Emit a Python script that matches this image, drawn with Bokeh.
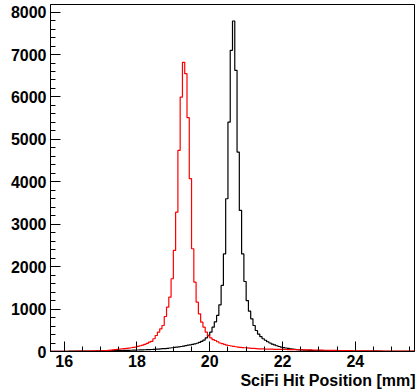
import numpy as np
from bokeh.plotting import figure
from bokeh.models import Range1d, FixedTicker, Title
from bokeh.embed import file_html
from bokeh.resources import INLINE

# Histogram binning (mm)
x_low = 15.625
bin_width = 0.0625

# Black histogram counts (160 bins)
black_counts = [
    4, 4, 5, 5, 5, 6, 6, 6, 7, 7,
    8, 8, 9, 9, 10, 10, 11, 11, 12, 12,
    13, 14, 14, 15, 16, 17, 18, 19, 20, 21,
    22, 23, 25, 26, 28, 29, 31, 33, 35, 37,
    39, 41, 43, 45, 47, 51, 54, 58, 62, 66,
    70, 76, 82, 88, 95, 102, 110, 118, 128, 138,
    148, 158, 170, 182, 195, 215, 240, 270, 320, 380,
    455, 573, 700, 850, 1100, 1557, 2300, 3601, 5408, 7099,
    7790, 6627, 4700, 3325, 2300, 1650, 1200, 950, 770, 613,
    495, 410, 350, 300, 265, 230, 200, 175, 155, 135,
    118, 105, 92, 82, 72, 64, 56, 50, 44, 40,
    36, 33, 30, 28, 26, 24, 22, 21, 20, 19,
    18, 17, 16, 15, 15, 14, 13, 13, 12, 12,
    11, 11, 10, 10, 10, 9, 9, 9, 8, 8,
    8, 8, 7, 7, 7, 7, 6, 6, 6, 6,
    6, 5, 5, 5, 5, 5, 5, 4, 4, 4,
]

# Red histogram counts (160 bins)
red_counts = [
    3, 3, 4, 4, 4, 4, 5, 5, 5, 6,
    6, 7, 7, 8, 9, 10, 11, 12, 13, 14,
    16, 18, 20, 22, 24, 27, 31, 36, 42, 50,
    57, 64, 70, 75, 80, 88, 95, 105, 120, 135,
    150, 170, 190, 219, 240, 300, 377, 455, 535, 613,
    825, 1045, 1281, 1715, 2382, 3285, 4740, 5998, 6816, 6550,
    5512, 4073, 2422, 1634, 1163, 889, 691, 573, 455, 370,
    320, 280, 259, 230, 200, 185, 170, 150, 141, 130,
    120, 112, 101, 96, 92, 88, 84, 80, 76, 72,
    68, 64, 62, 60, 58, 56, 55, 54, 52, 51,
    50, 49, 48, 47, 46, 45, 44, 43, 42, 41,
    40, 39, 38, 37, 36, 35, 34, 33, 32, 31,
    30, 29, 28, 27, 26, 25, 24, 23, 22, 21,
    20, 20, 19, 18, 18, 17, 16, 16, 15, 15,
    14, 14, 13, 13, 12, 12, 12, 11, 11, 11,
    10, 10, 10, 9, 9, 9, 9, 8, 8, 8,
]

x_major_ticks = [16, 18, 20, 22, 24]
y_major_ticks = [0, 1000, 2000, 3000, 4000, 5000, 6000, 7000, 8000]
x_title = "SciFi Hit Position [mm]"

n_bins = len(black_counts)
edges = x_low + bin_width * np.arange(n_bins + 1)
x_high = edges[-1]
y_top = 1.05 * max(black_counts)

FONT = "Liberation Sans"

p = figure(width=416, height=392,
           x_range=Range1d(x_low, x_high), y_range=Range1d(0, y_top),
           output_backend="svg", toolbar_location=None,
           min_border_left=50, min_border_right=2,
           min_border_top=4, min_border_bottom=41)
p.background_fill_color = "white"
p.border_fill_color = "white"
p.outline_line_color = "black"
p.outline_line_width = 1
p.xgrid.visible = False
p.ygrid.visible = False

p.step(x=edges, y=np.append(black_counts, black_counts[-1]), mode="after",
       line_color="black", line_width=1.2)
p.step(x=edges, y=np.append(red_counts, red_counts[-1]), mode="after",
       line_color="#ff0000", line_width=1.2)

x_minor = [v for v in np.arange(15.5, 26.0, 0.5) if x_low < v < x_high and v not in x_major_ticks]
y_minor = [v for v in range(0, 8200, 200) if v not in y_major_ticks]
p.xaxis.ticker = FixedTicker(ticks=x_major_ticks, minor_ticks=x_minor)
p.yaxis.ticker = FixedTicker(ticks=y_major_ticks, minor_ticks=y_minor)

for ax in (p.xaxis[0], p.yaxis[0]):
    ax.major_tick_in = 10
    ax.major_tick_out = 0
    ax.minor_tick_in = 5
    ax.minor_tick_out = 0
    ax.axis_line_color = "black"
    ax.axis_line_width = 1
    ax.major_tick_line_color = "black"
    ax.minor_tick_line_color = "black"
    ax.major_label_text_font = FONT
    ax.major_label_text_font_style = "bold"
    ax.major_label_text_font_size = "16px"
    ax.major_label_text_color = "black"
p.xaxis.major_label_standoff = 3
p.yaxis.major_label_standoff = 4

title = Title(text=x_title, align="right",
              text_font=FONT, text_font_style="bold",
              text_font_size="16px", text_color="black",
              standoff=0, offset=-1)
p.add_layout(title, "below")

open("out.html", "w").write(file_html(p, INLINE))
